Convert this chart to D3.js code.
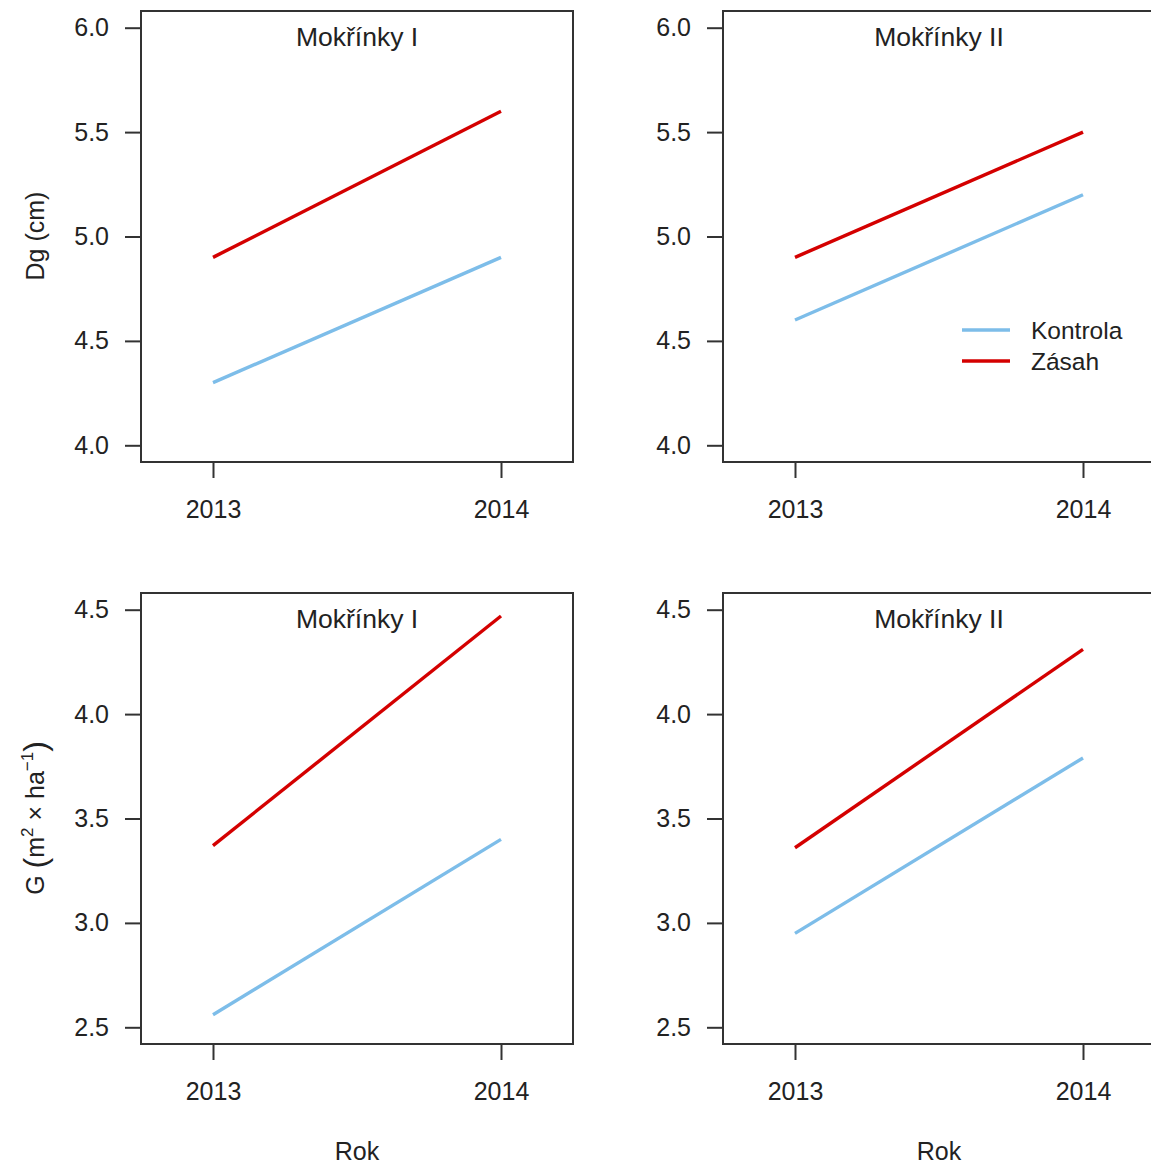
<!DOCTYPE html>
<html><head><meta charset="utf-8">
<script src="https://cdn.jsdelivr.net/npm/d3@7"></script>
<style>body{margin:0;background:#fff;} svg{display:block;font-family:"Liberation Sans",Arial,sans-serif;}</style>
</head><body>
<script>
const years = [2013, 2014];
const panelTitles = ["Mokřínky I", "Mokřínky II"];
const seriesNames = ["Kontrola", "Zásah"];
const seriesColors = ["#7dbde9", "#d40000"];
// Dg (cm)
const dgKontrolaI = [4.30, 4.90];
const dgZasahI = [4.90, 5.60];
const dgKontrolaII = [4.60, 5.20];
const dgZasahII = [4.90, 5.50];
// G (m2 x ha-1)
const gKontrolaI = [2.56, 3.40];
const gZasahI = [3.37, 4.47];
const gKontrolaII = [2.95, 3.79];
const gZasahII = [3.36, 4.31];
const dgTicks = [4.0, 4.5, 5.0, 5.5, 6.0];
const gTicks = [2.5, 3.0, 3.5, 4.0, 4.5];

const W = 1151, H = 1164;
const svg = d3.select("body").append("svg").attr("width", W).attr("height", H);
const textCol = "#222";
const FS = 25;

const panels = [
  {x0:141, y0:11, data:[dgKontrolaI, dgZasahI], title:panelTitles[0], ticks:dgTicks, ylim:[4,6], legend:false},
  {x0:723, y0:11, data:[dgKontrolaII, dgZasahII], title:panelTitles[1], ticks:dgTicks, ylim:[4,6], legend:true},
  {x0:141, y0:593, data:[gKontrolaI, gZasahI], title:panelTitles[0], ticks:gTicks, ylim:[2.5,4.5], legend:false},
  {x0:723, y0:593, data:[gKontrolaII, gZasahII], title:panelTitles[1], ticks:gTicks, ylim:[2.5,4.5], legend:false}
];
const pw = 432, ph = 451;

panels.forEach(p => {
  const ext = (p.ylim[1]-p.ylim[0])*0.04;
  const x = d3.scaleLinear().domain([2012.75, 2014.25]).range([p.x0, p.x0+pw]);
  const y = d3.scaleLinear().domain([p.ylim[0]-ext, p.ylim[1]+ext]).range([p.y0+ph, p.y0]);
  const g = svg.append("g");
  const line = d3.line().x((d,i)=>x(years[i])).y(d=>y(d));
  p.data.forEach((s,k)=>{
    g.append("path").datum(s).attr("d", line).attr("fill","none")
      .attr("stroke", seriesColors[k]).attr("stroke-width", 3.4);
  });
  g.append("rect").attr("x", p.x0).attr("y", p.y0).attr("width", pw).attr("height", ph)
    .attr("fill","none").attr("stroke","#333").attr("stroke-width",2);
  const ya = d3.axisLeft(y).tickValues(p.ticks).tickFormat(d3.format(".1f")).tickSize(16).tickPadding(16);
  const yg = g.append("g").attr("transform",`translate(${p.x0},0)`).call(ya);
  yg.select(".domain").remove();
  yg.selectAll("line").attr("stroke","#333").attr("stroke-width",2);
  yg.selectAll("text").attr("font-size",FS).attr("fill",textCol).attr("font-family","Liberation Sans, Arial, sans-serif");
  const xa = d3.axisBottom(x).tickValues(years).tickFormat(d3.format("d")).tickSize(16).tickPadding(22);
  const xg = g.append("g").attr("transform",`translate(0,${p.y0+ph})`).call(xa);
  xg.select(".domain").remove();
  xg.selectAll("line").attr("stroke","#333").attr("stroke-width",2);
  xg.selectAll("text").attr("font-size",FS).attr("fill",textCol).attr("font-family","Liberation Sans, Arial, sans-serif");
  g.append("text").attr("x", p.x0+pw/2).attr("y", p.y0+35).attr("text-anchor","middle")
    .attr("font-size",26.5).attr("fill",textCol).text(p.title);
  if (p.legend) {
    seriesNames.forEach((n,k)=>{
      const ly = 330 + k*31;
      g.append("line").attr("x1",962).attr("x2",1010).attr("y1",ly).attr("y2",ly)
        .attr("stroke",seriesColors[k]).attr("stroke-width",3.4);
      g.append("text").attr("x",1031).attr("y",ly+9).attr("font-size",24.5).attr("fill",textCol).text(n);
    });
  }
});

svg.append("text").attr("transform","translate(44,236) rotate(-90)").attr("text-anchor","middle")
  .attr("font-size",FS).attr("fill",textCol).text("Dg (cm)");
const gl = svg.append("text").attr("transform","translate(44,818) rotate(-90)").attr("text-anchor","middle")
  .attr("font-size",FS).attr("fill",textCol);
gl.append("tspan").text("G ");
gl.append("tspan").attr("font-size",32).attr("dy",2).text("(");
gl.append("tspan").attr("dy",-2).text("m");
gl.append("tspan").attr("font-size",17).attr("dy",-11).text("2");
gl.append("tspan").attr("dy",11).text(" × ha");
gl.append("tspan").attr("font-size",17).attr("dy",-11).text("−1");
gl.append("tspan").attr("font-size",32).attr("dy",13).text(")");
[357, 939].forEach(cx=>{
  svg.append("text").attr("x",cx).attr("y",1160).attr("text-anchor","middle")
    .attr("font-size",FS).attr("fill",textCol).text("Rok");
});
</script>
</body></html>
